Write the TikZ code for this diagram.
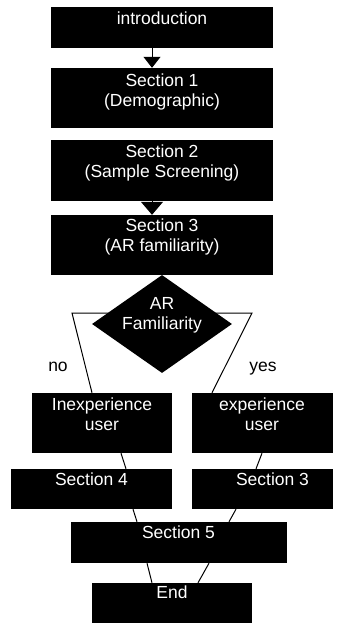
\documentclass[tikz,border=0pt]{standalone}
\usepackage{fontspec}
\setmainfont{Liberation Sans}
\usetikzlibrary{shapes.geometric,arrows.meta,calc}
\begin{document}
\begin{tikzpicture}[x=1pt,y=-1pt,
  box/.style={rectangle,fill=black,inner sep=0pt,minimum width=#1},
  lbl/.style={text=white,anchor=north,inner sep=0pt,align=center,font=\fontsize{17.5}{20}\selectfont},
  side/.style={text=black,anchor=base,inner sep=0pt,font=\fontsize{17.5}{20}\selectfont},
  conn/.style={draw=black,line width=1pt}
]
\useasboundingbox (0,0) rectangle (349,623);
% boxes
\node[box=222pt,minimum height=41pt] (intro) at (162,27.5) {};
\node[box=222pt,minimum height=60pt] (s1) at (162,98) {};
\node[box=222pt,minimum height=61pt] (s2) at (162,170.5) {};
\node[box=222pt,minimum height=60pt] (s3) at (162,245) {};
\node[box=140pt,minimum height=60pt] (inexp) at (102,423) {};
\node[box=141pt,minimum height=60pt] (exp) at (262.5,423) {};
\node[box=161pt,minimum height=40pt] (s4) at (91.5,489) {};
\node[box=141pt,minimum height=40pt] (s3r) at (262.5,489) {};
\node[box=216pt,minimum height=41pt] (s5) at (179,542.5) {};
\node[box=160pt,minimum height=40pt] (end) at (172,603) {};
% connectors
\coordinate (nL) at (72,313);
\coordinate (nR) at (252,313);
\draw[conn] ($(inexp.north)+(-10,0)$) -- (nL) -- (162,313) -- (nR) -- ($(exp.north)+(-50.5,0)$);
\node[shape=diamond,fill=black,inner sep=0pt,minimum width=140pt,minimum height=98pt] (dia) at (162,324) {};
\draw[conn,-{Triangle[length=11pt,width=17pt]}] ($(intro.south)+(-10,0)$) -- ($(s1.north)+(-10,0)$);
\draw[conn,-{Triangle[length=13pt,width=22pt]}] ($(s2.south)+(-10,0)$) -- ($(s3.north)+(-10,0)$);
\draw[conn] ($(inexp.south)+(19,0)$) -- ($(s4.north)+(34.5,0)$);
\draw[conn] ($(exp.south)+(-0.5,0)$) -- ($(s3r.north)+(-6.5,0)$);
\draw[conn] ($(s4.south)+(41.5,0)$) -- ($(s5.north)+(-42,0)$);
\draw[conn] ($(s3r.south)+(-26.5,0)$) -- ($(s5.north)+(50,0)$);
\draw[conn] ($(s5.south)+(-32,0)$) -- ($(end.north)+(-20,0)$);
\draw[conn] ($(s5.south)+(30,0)$) -- ($(end.north)+(26,0)$);
% texts
\node[lbl] (tintro) at (162,11.4) {introduction};
\node[lbl] (ts1) at (162,73.4) {Section 1\\(Demographic)};
\node[lbl] (ts2) at (162,144.4) {Section 2\\(Sample Screening)};
\node[lbl] (ts3) at (162,219) {Section 3\\(AR familiarity)};
\node[lbl] (tdia) at (162,297.4) {AR\\Familiarity};
\node[lbl] (tinexp) at (102,397.4) {Inexperience\\user};
\node[lbl] (texp) at (262,397.4) {experience\\user};
\node[lbl] (ts4) at (91.5,472.4) {Section 4};
\node[lbl] (ts3r) at (272.5,472.4) {Section 3};
\node[lbl] (ts5) at (178.5,525.4) {Section 5};
\node[lbl] (tend) at (172,585.4) {End};
\node[side] (tno) at (58,371) {no};
\node[side] (tyes) at (263,371) {yes};
\end{tikzpicture}
\end{document}
